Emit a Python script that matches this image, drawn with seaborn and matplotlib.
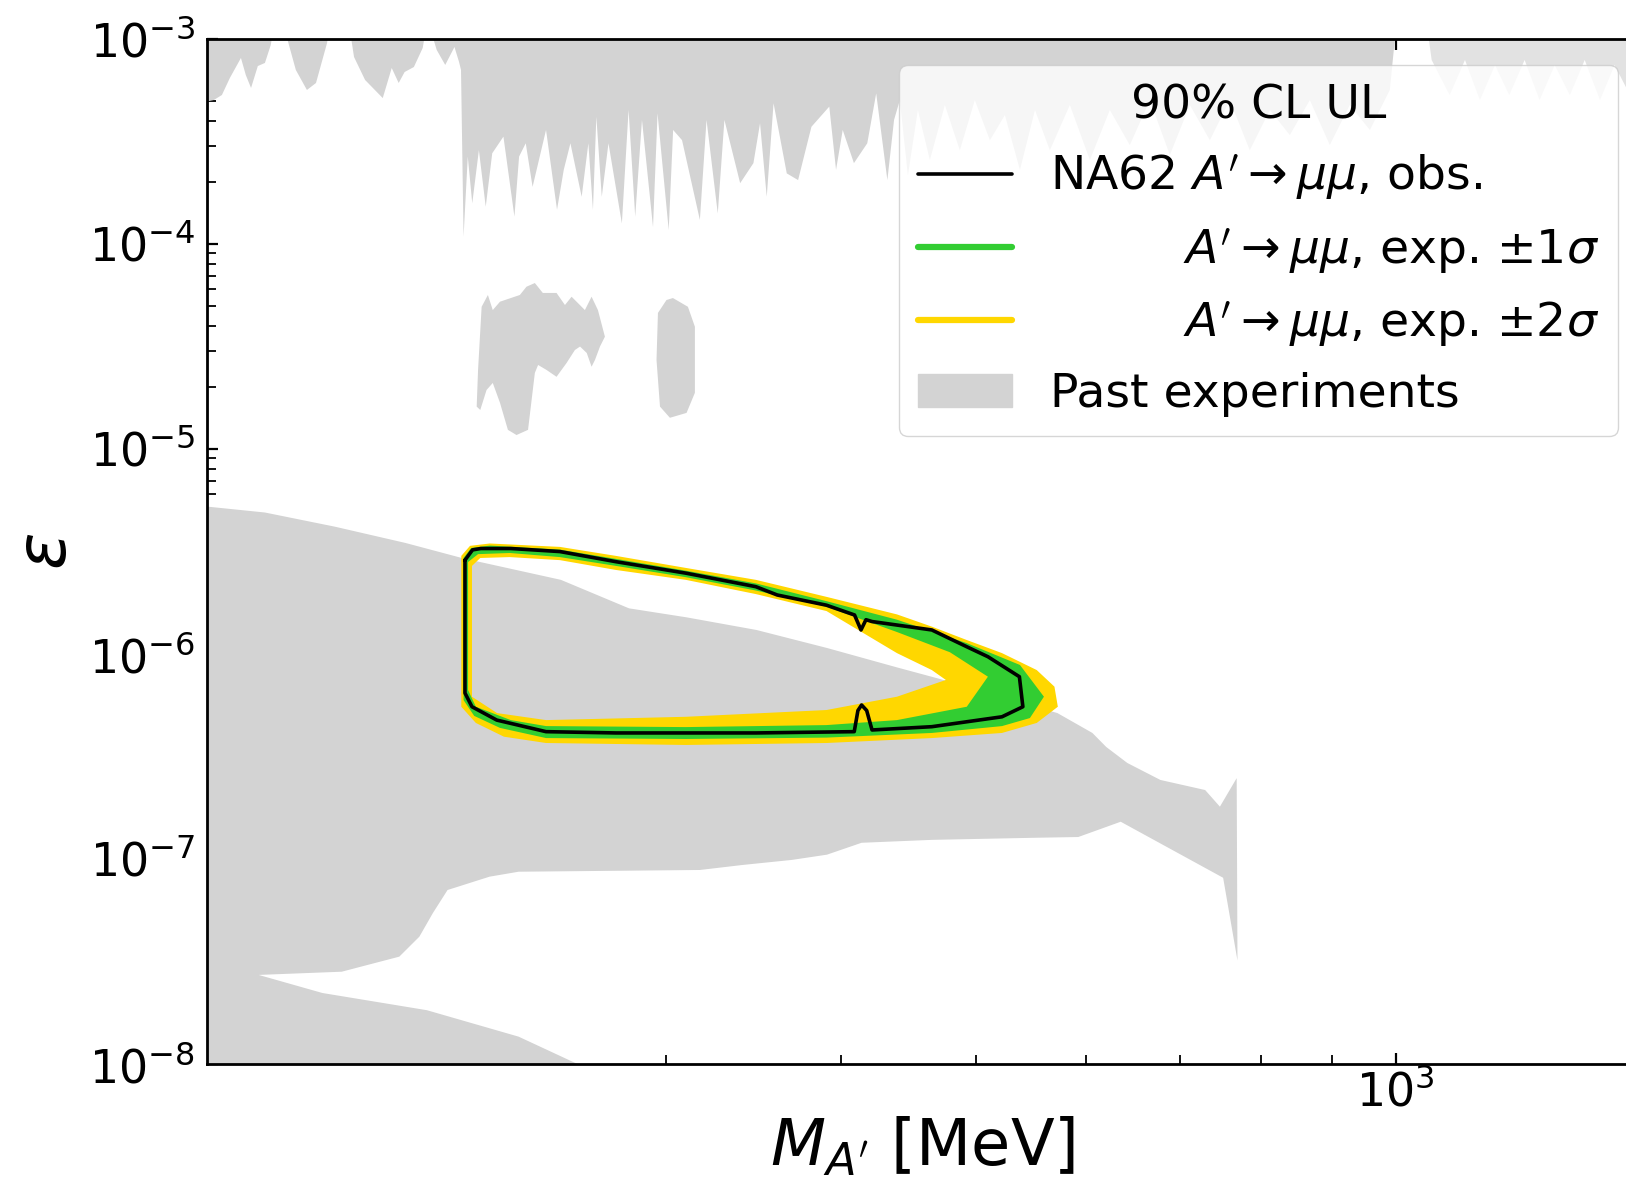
import numpy as np
import matplotlib
matplotlib.use("Agg")
import matplotlib.pyplot as plt
import seaborn as sns
from matplotlib.lines import Line2D
from matplotlib.patches import Patch
from matplotlib.ticker import LogLocator, NullFormatter

# ---- past experiments (mass in MeV, epsilon) ----
# big region below the NA62 contour, incl. the spike near 770 MeV and the lower-left wedge
past_band_mass = [140, 154.6, 173.5, 195, 214, 252, 282, 310, 348, 391, 439, 473,
                  572, 606, 620, 642, 678, 730, 748, 769, 770, 752, 635, 592, 553,
                  465, 414, 391, 369, 340, 317, 235, 224, 209, 204, 199.5, 193,
                  175.5, 153, 170, 202, 235, 259, 265, 140]
past_band_eps = [5.25e-6, 4.9e-6, 4.18e-6, 3.48e-6, 2.94e-6, 2.30e-6, 1.67e-6, 1.51e-6,
                 1.31e-6, 1.07e-6, 8.6e-7, 7.5e-7, 5.15e-7, 4.12e-7, 3.52e-7, 2.94e-7,
                 2.43e-7, 2.17e-7, 1.80e-7, 2.48e-7, 3.2e-8, 8.1e-8, 1.52e-7, 1.28e-7,
                 1.27e-7, 1.24e-7, 1.20e-7, 1.05e-7, 9.9e-8, 9.35e-8, 8.84e-8, 8.67e-8,
                 8.2e-8, 7.06e-8, 5.45e-8, 4.18e-8, 3.34e-8, 2.82e-8, 2.72e-8, 2.22e-8,
                 1.83e-8, 1.36e-8, 1.0e-8, 8.8e-9, 8.8e-9]

# lower edge of the band hanging from the top, left of 2 m_mu
past_top_left_mass = [140, 142.1, 144.0, 145.9, 148.6, 149.8, 151.1, 152.8, 154.6, 156.1,
                      156.7, 159.8, 162.7, 165.7, 168.2, 171.3, 171.8, 177.9, 179.1,
                      182.4, 187.8, 190.6, 192.8, 194.7, 197.7, 200.6, 201.6, 203.3,
                      205.3, 208.2, 211.4, 213.0]
past_top_left_eps = [4.93e-4, 5.04e-4, 5.33e-4, 6.45e-4, 8.08e-4, 6.67e-4, 5.77e-4,
                     7.38e-4, 7.64e-4, 9.35e-4, 1.1e-3, 1.1e-3, 7.06e-4, 5.64e-4,
                     6.10e-4, 9.56e-4, 1.1e-3, 1.1e-3, 8.17e-4, 6.31e-4, 5.15e-4,
                     7.22e-4, 6.10e-4, 6.90e-4, 7.30e-4, 9.04e-4, 1.1e-3, 1.1e-3,
                     8.84e-4, 7.47e-4, 9.14e-4, 7.73e-4]

# lower edge of the spiky band from 2 m_mu up to 1 GeV
past_top_mass = [213.7, 214.6, 216.1, 217.7, 220.1, 222.6, 225.0, 229.2, 233.4, 235.2,
                 237.8, 240.5, 245.9, 250.4, 253.2, 256.0, 260.8, 263.7, 265.7, 267.2,
                 269.6, 272.6, 278.7, 281.8, 284.9, 288.1, 293.4, 295.6, 301.1, 303.3,
                 307.8, 317.0, 320.5, 326.5, 330.1, 338.8, 346.3, 350.1, 354.0, 358.0,
                 365.9, 372.8, 381.1, 392.5, 396.9, 401.3, 408.8, 417.9, 424.1, 432.0,
                 436.8, 441, 446.9, 454.3, 463.4, 475, 486.9, 499.1, 511.7, 524.5,
                 537.7, 551.2, 564.9, 583.9, 603.5, 623.7, 644.6, 666.3, 688.7, 711.8,
                 735.7, 760.3, 785.8, 812.3, 839.5, 867.7, 896.8, 926.8, 958.1, 990.1,
                 1000]
past_top_eps = [7.06e-4, 1.085e-4, 2.67e-4, 1.58e-4, 2.87e-4, 1.52e-4, 2.77e-4, 3.34e-4,
                1.36e-4, 2.67e-4, 3.10e-4, 1.90e-4, 3.60e-4, 1.47e-4, 2.30e-4, 3.10e-4,
                1.70e-4, 3.10e-4, 1.47e-4, 4.18e-4, 1.70e-4, 3.10e-4, 1.26e-4, 4.51e-4,
                1.36e-4, 4.03e-4, 1.21e-4, 4.34e-4, 1.17e-4, 3.60e-4, 3.21e-4, 1.31e-4,
                4.03e-4, 1.41e-4, 4.03e-4, 1.98e-4, 2.48e-4, 3.88e-4, 1.70e-4, 4.86e-4,
                2.21e-4, 2.05e-4, 3.73e-4, 4.68e-4, 2.30e-4, 3.60e-4, 2.48e-4, 3.10e-4,
                5.43e-4, 2.05e-4, 4.03e-4, 5.04e-4, 2.17e-4, 4.51e-4, 2.57e-4, 4.77e-4,
                2.87e-4, 5.04e-4, 3.21e-4, 4.26e-4, 2.30e-4, 4.51e-4, 2.87e-4, 4.77e-4,
                2.57e-4, 4.51e-4, 3.04e-4, 5.04e-4, 2.72e-4, 4.77e-4, 3.21e-4, 5.04e-4,
                2.87e-4, 4.51e-4, 3.40e-4, 5.04e-4, 3.04e-4, 4.77e-4, 3.60e-4, 5.64e-4,
                1.1e-3]

# faint band above 1 GeV
past_top_right_mass = [1054, 1061, 1093, 1121, 1149, 1178, 1206, 1237, 1268, 1300, 1333,
                       1366, 1401, 1435, 1472, 1546]
past_top_right_eps = [1.1e-3, 7.9e-4, 5.33e-4, 7.9e-4, 5.04e-4, 7.47e-4, 5.33e-4, 7.9e-4,
                      5.04e-4, 7.47e-4, 5.33e-4, 7.9e-4, 5.04e-4, 7.47e-4, 5.33e-4, 7.06e-4]

# isolated islands
island1_mass = [219.3, 219.8, 221.1, 223.4, 225.2, 227.9, 235.5, 238.1, 241.4, 244.6,
                250.2, 253.7, 256.5, 259.2, 262.2, 265.1, 267.9, 271.0, 268.8, 266.6,
                265.1, 263.0, 260.1, 257.9, 254.4, 250.2, 246.1, 242.7, 241.4, 238.7,
                234.2, 230.9, 227.9, 225.2, 222.9, 220.6]
island1_eps = [1.61e-5, 2.43e-5, 4.94e-5, 5.64e-5, 4.76e-5, 5.23e-5, 5.64e-5, 6.19e-5,
               6.45e-5, 5.77e-5, 5.77e-5, 5.04e-5, 5.53e-5, 5.15e-5, 4.76e-5, 5.53e-5,
               4.76e-5, 3.53e-5, 3.16e-5, 2.72e-5, 2.52e-5, 2.94e-5, 3.16e-5, 3.04e-5,
               2.63e-5, 2.25e-5, 2.43e-5, 2.57e-5, 2.35e-5, 1.24e-5, 1.17e-5, 1.24e-5,
               1.68e-5, 2.10e-5, 1.94e-5, 1.55e-5]
island2_mass = [303.2, 310.8, 314.4, 314.4, 310.1, 301.7, 296.8, 295.1, 295.8, 300.0]
island2_eps = [5.45e-5, 4.94e-5, 3.95e-5, 1.88e-5, 1.50e-5, 1.42e-5, 1.61e-5, 2.72e-5,
               4.61e-5, 5.33e-5]

# ---- NA62 A' -> mu mu, 90% CL UL ----
obs_mass = [215.1, 217.8, 220.8, 232.0, 251.6, 276.0, 309.7, 347.7, 360.2, 390.7, 409.2,
            413.6, 417.0, 421.2, 464.9, 492.5, 510, 537.2, 540.3, 522, 464.9, 421.2,
            417.5, 414, 411.5, 409, 347.7, 276.0, 245.9, 226.7, 217.6, 215.1, 215.1]
obs_eps = [2.87e-6, 3.22e-6, 3.27e-6, 3.27e-6, 3.16e-6, 2.82e-6, 2.48e-6, 2.13e-6,
           1.94e-6, 1.73e-6, 1.55e-6, 1.31e-6, 1.47e-6, 1.44e-6, 1.31e-6, 1.085e-6,
           9.7e-7, 7.75e-7, 5.53e-7, 4.94e-7, 4.42e-7, 4.26e-7, 5.3e-7, 5.64e-7,
           5.3e-7, 4.18e-7, 4.12e-7, 4.12e-7, 4.18e-7, 4.76e-7, 5.53e-7, 6.45e-7,
           2.87e-6]

exp2_out_mass = [213.8, 216.9, 224.1, 251.6, 276.0, 309.7, 347.7, 390.7, 438.9, 464.9,
                 492.5, 522, 552.8, 569.2, 572.4, 552.8, 522, 464.9, 390.7, 309.7, 245.9,
                 229.4, 219.0, 213.8]
exp2_out_eps = [3.01e-6, 3.37e-6, 3.46e-6, 3.33e-6, 3.01e-6, 2.63e-6, 2.30e-6, 1.90e-6,
                1.56e-6, 1.36e-6, 1.17e-6, 1.01e-6, 8.35e-7, 6.93e-7, 5.53e-7, 4.61e-7,
                4.12e-7, 3.89e-7, 3.68e-7, 3.60e-7, 3.68e-7, 3.95e-7, 4.61e-7, 5.53e-7]
exp2_in_mass = [217.6, 220.6, 231.6, 251.6, 276.0, 309.7, 347.7, 390.7, 438.9, 464.9,
                475.8, 438.9, 390.7, 309.7, 245.9, 226.8, 217.6]
exp2_in_eps = [2.69e-6, 2.94e-6, 2.97e-6, 2.87e-6, 2.57e-6, 2.30e-6, 1.96e-6, 1.62e-6,
               1.01e-6, 8.35e-7, 7.47e-7, 6.19e-7, 5.33e-7, 4.94e-7, 4.76e-7, 5.15e-7,
               6.19e-7]

exp1_out_mass = [214.6, 217.3, 224.2, 251.6, 276.0, 309.7, 347.7, 390.7, 438.9, 492.5,
                 537.7, 559.4, 546.6, 522, 464.9, 390.7, 309.7, 245.9, 227.9, 218.4, 214.6]
exp1_out_eps = [2.94e-6, 3.29e-6, 3.38e-6, 3.23e-6, 2.91e-6, 2.55e-6, 2.21e-6, 1.81e-6,
                1.47e-6, 1.13e-6, 8.84e-7, 6.19e-7, 4.87e-7, 4.45e-7, 4.12e-7, 3.91e-7,
                3.85e-7, 3.89e-7, 4.36e-7, 4.99e-7, 5.96e-7]
exp1_in_mass = [216.2, 219.8, 231.6, 251.6, 276.0, 309.7, 347.7, 390.7, 438.9, 479, 510,
                492.5, 438.9, 390.7, 309.7, 245.9, 232, 219.0, 216.2]
exp1_in_eps = [2.81e-6, 3.07e-6, 3.11e-6, 2.97e-6, 2.69e-6, 2.37e-6, 2.04e-6, 1.70e-6,
               1.28e-6, 1.02e-6, 7.75e-7, 5.53e-7, 4.76e-7, 4.50e-7, 4.40e-7, 4.45e-7,
               4.76e-7, 5.53e-7, 6.67e-7]

x_limits = (140.5, 1529)
y_limits = (1e-8, 1e-3)
top_eps = 2e-3

GRAY = "lightgray"
GREEN = "limegreen"
YELLOW = "gold"


def fill_ring(ax, out_m, out_e, in_m, in_e, color, zorder):
    # outer loop, then inner loop reversed -> hole in the middle
    xs = list(out_m) + [out_m[0]] + list(in_m[::-1]) + [in_m[-1]]
    ys = list(out_e) + [out_e[0]] + list(in_e[::-1]) + [in_e[-1]]
    ax.fill(xs, ys, color=color, lw=0, zorder=zorder)


sns.set_theme(style="ticks", rc={
    "axes.edgecolor": "black",
    "axes.linewidth": 2.0,
    "axes.labelcolor": "black",
    "text.color": "black",
    "xtick.color": "black",
    "ytick.color": "black",
})
plt.rcParams["font.family"] = ["DejaVu Sans"]
plt.rcParams["mathtext.fontset"] = "dejavusans"

fig = plt.figure(figsize=(16.26, 11.85), dpi=100)
ax = fig.add_axes([0.1273, 0.1021, 0.8893, 0.8650])
ax.set_xscale("log")
ax.set_yscale("log")

# past experiments
ax.fill(past_band_mass, past_band_eps, color=GRAY, lw=0, zorder=1)
ax.fill([140] + past_top_left_mass + past_top_mass + [1000, 140],
        [top_eps] + past_top_left_eps + past_top_eps + [top_eps, top_eps],
        color=GRAY, lw=0, zorder=1)
ax.fill(past_top_right_mass + [1546, 1054],
        past_top_right_eps + [top_eps, top_eps],
        color=GRAY, lw=0, alpha=0.65, zorder=1)
ax.fill(island1_mass, island1_eps, color=GRAY, lw=0, zorder=1)
ax.fill(island2_mass, island2_eps, color=GRAY, lw=0, zorder=1)

# expected bands and observed limit
fill_ring(ax, exp2_out_mass, exp2_out_eps, exp2_in_mass, exp2_in_eps, YELLOW, 2)
fill_ring(ax, exp1_out_mass, exp1_out_eps, exp1_in_mass, exp1_in_eps, GREEN, 3)
sns.lineplot(x=obs_mass, y=obs_eps, sort=False, estimator=None, color="black",
             lw=2.6, ax=ax, zorder=4)

ax.set_xlim(*x_limits)
ax.set_ylim(*y_limits)

ax.xaxis.set_minor_locator(LogLocator(base=10, subs=np.arange(2, 10) * 1.0, numticks=100))
ax.yaxis.set_minor_locator(LogLocator(base=10, subs=np.arange(2, 10) * 1.0, numticks=100))
ax.yaxis.set_major_locator(LogLocator(base=10, numticks=12))
ax.xaxis.set_minor_formatter(NullFormatter())
ax.yaxis.set_minor_formatter(NullFormatter())

ax.tick_params(which="both", direction="in", top=True, right=True)
ax.tick_params(which="major", length=8, width=1.6, labelsize=33)
ax.tick_params(which="minor", length=6.5, width=1.3)
ax.tick_params(axis="y", which="major", pad=8.5)
ax.tick_params(axis="x", which="major", pad=4)

ax.set_xlabel(r"$M_{A'}$ [MeV]", fontsize=46)
ax.set_ylabel(r"$\varepsilon$", fontsize=50)
ax.xaxis.set_label_coords(0.495, -0.05)
ax.yaxis.set_label_coords(-0.088, 0.5)

handles = [
    Line2D([], [], color="black", lw=2.6),
    Line2D([], [], color=GREEN, lw=4.5),
    Line2D([], [], color=YELLOW, lw=4.5),
    Patch(facecolor=GRAY, edgecolor=GRAY),
]
pad = " " * 9
labels = [
    r"NA62 $A'\rightarrow\mu\mu$, obs.",
    pad + r"$A'\rightarrow\mu\mu$, exp. $\pm1\sigma$",
    pad + r"$A'\rightarrow\mu\mu$, exp. $\pm2\sigma$",
    "Past experiments",
]
ax.legend(handles, labels, title="90% CL UL", loc="upper right",
          bbox_to_anchor=(0.9758, 0.9746), borderaxespad=0, fontsize=34,
          title_fontsize=34, handlelength=2.0, handletextpad=0.8,
          labelspacing=0.5, borderpad=0.4, frameon=True, framealpha=0.8,
          edgecolor="0.8", fancybox=True)

fig.savefig("out.png", dpi=100)
